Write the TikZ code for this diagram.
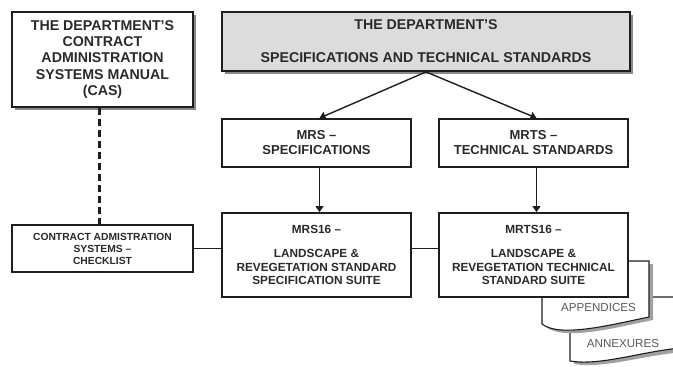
\documentclass[tikz,border=0pt]{standalone}
\usepackage{fontspec}
\setmainfont{Liberation Sans}
\usetikzlibrary{arrows.meta,shadows}
\definecolor{textc}{HTML}{2A2A2A}
\definecolor{linec}{HTML}{1E1E1E}
\definecolor{topfill}{HTML}{DCDCDC}
\definecolor{shadc}{HTML}{8A8A8A}
\begin{document}
\begin{tikzpicture}[x=1pt,y=-1pt,
  box/.style={draw=linec, line width=1.8pt, fill=white, rectangle, align=center, inner sep=0pt, text=textc},
  shad/.style={drop shadow={shadow xshift=3pt, shadow yshift=-3pt, fill=shadc, opacity=1}},
  conn/.style={line width=1.4pt, draw=linec},
  arr/.style={conn, -{Triangle[length=6pt,width=8pt]}},
  doc/.style={draw=linec, line width=1.1pt, fill=white},
  docshadow/.style={fill=shadc!80},
  doctext/.style={text=black!65, font=\fontsize{11.6}{13}\selectfont, inner sep=0pt}
]
\useasboundingbox (0,0) rectangle (673,367);
\clip (0,0) rectangle (673,367);

% ANNEXURES document (behind)
\fill[docshadow] (574,300) -- (684,300) -- (684,352)
  .. controls (644,355) and (604,369) .. (574,364) -- cycle;
\path[doc] (570,297) -- (680,297) -- (680,348)
  .. controls (640,352) and (600,366) .. (570,361) -- cycle;
\node[doctext] (annex) at (623,344) {ANNEXURES};

% APPENDICES document
\fill[docshadow] (546,264) -- (653,264) -- (653,320)
  .. controls (614,328) and (564,341) .. (546,327) -- cycle;
\path[doc] (542,261) -- (649,261) -- (649,317)
  .. controls (610,325) and (560,338) .. (542,324) -- cycle;
\node[doctext] (app) at (598.5,308) {APPENDICES};

% Boxes
\node[box, shad, minimum width=181pt, minimum height=95pt,
  font=\bfseries\fontsize{14.2}{16.3}\selectfont] (cas) at (102.5,59.5)
  {THE DEPARTMENT’S\\CONTRACT\\ADMINISTRATION\\SYSTEMS MANUAL\\(CAS)};

\node[box, shad, fill=topfill, minimum width=408pt, minimum height=59pt,
  font=\bfseries\fontsize{14.2}{16.5}\selectfont] (top) at (426,41.5)
  {THE DEPARTMENT’S\\[16.5pt]SPECIFICATIONS AND TECHNICAL STANDARDS};

\node[box, minimum width=189pt, minimum height=48pt,
  font=\bfseries\fontsize{13}{15}\selectfont] (mrs) at (316.5,143)
  {MRS –\\SPECIFICATIONS};

\node[box, minimum width=189pt, minimum height=48pt,
  font=\bfseries\fontsize{13}{15}\selectfont] (mrts) at (533.5,143)
  {MRTS –\\TECHNICAL STANDARDS};

\node[box, minimum width=189pt, minimum height=84pt,
  font=\bfseries\fontsize{11.8}{13.6}\selectfont] (mrs16) at (316.5,255)
  {MRS16 –\\[10.5pt]LANDSCAPE \&\\REVEGETATION STANDARD\\SPECIFICATION SUITE};

\node[box, minimum width=189pt, minimum height=84pt,
  font=\bfseries\fontsize{11.8}{13.6}\selectfont] (mrts16) at (533.5,255)
  {MRTS16 –\\[10.5pt]LANDSCAPE \&\\REVEGETATION TECHNICAL\\STANDARD SUITE};

\node[box, line width=1.5pt, minimum width=181pt, minimum height=47pt,
  font=\bfseries\fontsize{10.3}{12}\selectfont] (chk) at (102.5,248.5)
  {CONTRACT ADMISTRATION\\SYSTEMS –\\CHECKLIST};

% Connectors
\draw[arr] (top.south) -- ([xshift=3pt]mrs.north);
\draw[arr] (top.south) -- ([xshift=3pt]mrts.north);
\draw[arr] ([xshift=3pt]mrs.south) -- ([xshift=3pt]mrs16.north);
\draw[arr] ([xshift=3pt]mrts.south) -- ([xshift=3pt]mrts16.north);
\draw[conn, line width=2.2pt, dash pattern=on 7pt off 4pt] ([xshift=-3pt]cas.south) -- ([xshift=-3pt]chk.north);
\draw[conn] (chk.east) -- (chk.east -| mrs16.west);
\draw[conn] (mrs16.east |- chk.east) -- (mrts16.west |- chk.east);
\end{tikzpicture}
\end{document}
